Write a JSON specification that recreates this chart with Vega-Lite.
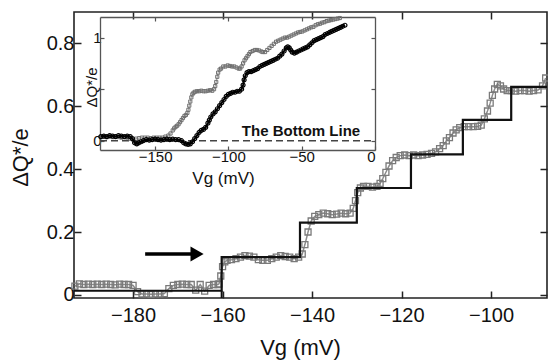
{
  "$schema": "https://vega.github.io/schema/vega-lite/v6.json",
  "width": 473,
  "height": 286,
  "autosize": {"type": "none"},
  "padding": {"left": 74, "top": 12, "right": 1, "bottom": 63},
  "background": "white",
  "config": {
    "font": "Liberation Sans",
    "view": {"stroke": "#222", "strokeWidth": 1.6},
    "axis": {"grid": false, "labelColor": "#111", "titleColor": "#111", "titleFontWeight": "normal", "labelFont": "Liberation Sans", "titleFont": "Liberation Sans"}
  },
  "datasets": {
    "main_gray": [
      {"x": -193, "y": 0.028}, {"x": -192, "y": 0.035}, {"x": -191, "y": 0.033}, {"x": -190, "y": 0.034},
      {"x": -189, "y": 0.033}, {"x": -188, "y": 0.034}, {"x": -187, "y": 0.033}, {"x": -186, "y": 0.034},
      {"x": -185, "y": 0.033}, {"x": -184, "y": 0.032}, {"x": -183, "y": 0.034}, {"x": -182, "y": 0.033},
      {"x": -181, "y": 0.033}, {"x": -180, "y": 0.03}, {"x": -179, "y": 0.01}, {"x": -178, "y": 0.003},
      {"x": -177, "y": 0.003}, {"x": -176, "y": 0.002}, {"x": -175, "y": 0.003}, {"x": -174, "y": 0.003},
      {"x": -173, "y": 0.004}, {"x": -172, "y": 0.02}, {"x": -171, "y": 0.03}, {"x": -170, "y": 0.033},
      {"x": -169, "y": 0.034}, {"x": -168, "y": 0.033}, {"x": -167, "y": 0.033}, {"x": -166, "y": 0.015},
      {"x": -165, "y": 0.033}, {"x": -164, "y": 0.012}, {"x": -163, "y": 0.03}, {"x": -162, "y": 0.033},
      {"x": -161, "y": 0.033}, {"x": -160.8, "y": 0.035}, {"x": -160.4, "y": 0.06}, {"x": -160, "y": 0.09},
      {"x": -159.5, "y": 0.105}, {"x": -159, "y": 0.11}, {"x": -158, "y": 0.112}, {"x": -157, "y": 0.115},
      {"x": -156, "y": 0.12}, {"x": -155, "y": 0.125}, {"x": -154, "y": 0.123}, {"x": -153, "y": 0.12},
      {"x": -152, "y": 0.112}, {"x": -151, "y": 0.11}, {"x": -150, "y": 0.11}, {"x": -149, "y": 0.115},
      {"x": -148, "y": 0.12}, {"x": -147, "y": 0.125}, {"x": -146, "y": 0.122}, {"x": -145, "y": 0.12},
      {"x": -144, "y": 0.115}, {"x": -143, "y": 0.12}, {"x": -142.2, "y": 0.13}, {"x": -141.6, "y": 0.16},
      {"x": -140.9, "y": 0.2}, {"x": -140.2, "y": 0.235}, {"x": -139.4, "y": 0.25}, {"x": -138.5, "y": 0.255},
      {"x": -137.5, "y": 0.26}, {"x": -136.5, "y": 0.258}, {"x": -135.5, "y": 0.255}, {"x": -134.5, "y": 0.257},
      {"x": -133.5, "y": 0.26}, {"x": -132.5, "y": 0.258}, {"x": -131.5, "y": 0.26}, {"x": -130.8, "y": 0.275},
      {"x": -130.3, "y": 0.3}, {"x": -129.8, "y": 0.325}, {"x": -129.2, "y": 0.34}, {"x": -128.5, "y": 0.345},
      {"x": -127.5, "y": 0.345}, {"x": -126.5, "y": 0.343}, {"x": -125.5, "y": 0.345}, {"x": -124.8, "y": 0.355},
      {"x": -124.2, "y": 0.37}, {"x": -123.5, "y": 0.39}, {"x": -122.8, "y": 0.41}, {"x": -122, "y": 0.427},
      {"x": -121.2, "y": 0.437}, {"x": -120.3, "y": 0.443}, {"x": -119.3, "y": 0.445}, {"x": -118.3, "y": 0.443},
      {"x": -117.3, "y": 0.445}, {"x": -116.3, "y": 0.443}, {"x": -115.3, "y": 0.445}, {"x": -114.3, "y": 0.447},
      {"x": -113.3, "y": 0.45}, {"x": -112.4, "y": 0.455}, {"x": -111.5, "y": 0.465}, {"x": -110.7, "y": 0.475},
      {"x": -110, "y": 0.49}, {"x": -109.3, "y": 0.5}, {"x": -108.5, "y": 0.515}, {"x": -107.8, "y": 0.525},
      {"x": -107, "y": 0.532}, {"x": -106, "y": 0.535}, {"x": -105, "y": 0.535}, {"x": -104, "y": 0.535},
      {"x": -103, "y": 0.536}, {"x": -102.2, "y": 0.54}, {"x": -101.5, "y": 0.56}, {"x": -100.8, "y": 0.585},
      {"x": -100.2, "y": 0.61}, {"x": -99.7, "y": 0.635}, {"x": -99.2, "y": 0.655}, {"x": -98.6, "y": 0.67},
      {"x": -97.9, "y": 0.665}, {"x": -97.2, "y": 0.655}, {"x": -96.4, "y": 0.65}, {"x": -95.5, "y": 0.65},
      {"x": -94.5, "y": 0.648}, {"x": -93.5, "y": 0.65}, {"x": -92.5, "y": 0.65}, {"x": -91.5, "y": 0.648},
      {"x": -90.5, "y": 0.65}, {"x": -89.5, "y": 0.652}, {"x": -88.5, "y": 0.665}, {"x": -87.8, "y": 0.69}
    ],
    "steps": [
      {"x": -193.2, "y": 0.013}, {"x": -160.2, "y": 0.12}, {"x": -142.7, "y": 0.23}, {"x": -130, "y": 0.34},
      {"x": -117.9, "y": 0.447}, {"x": -106.3, "y": 0.557}, {"x": -95.5, "y": 0.662}, {"x": -87.5, "y": 0.662}
    ],
    "inset_gray": [
      {"x": -187, "y": 0.035}, {"x": -185, "y": 0.04}, {"x": -183, "y": 0.035}, {"x": -181, "y": 0.04},
      {"x": -179, "y": 0.035}, {"x": -177, "y": 0.04}, {"x": -175, "y": 0.035}, {"x": -173, "y": 0.03},
      {"x": -171, "y": 0.035}, {"x": -169, "y": 0.03}, {"x": -167, "y": 0.02}, {"x": -165, "y": 0.01},
      {"x": -163, "y": 0.02}, {"x": -161, "y": 0.025}, {"x": -159, "y": 0.03}, {"x": -157, "y": 0.03},
      {"x": -155, "y": 0.03}, {"x": -153, "y": 0.025}, {"x": -151, "y": 0.03}, {"x": -149, "y": 0.03},
      {"x": -147, "y": 0.03}, {"x": -145, "y": 0.03}, {"x": -143, "y": 0.04}, {"x": -141, "y": 0.05},
      {"x": -139.5, "y": 0.07}, {"x": -138, "y": 0.1}, {"x": -137, "y": 0.12}, {"x": -136, "y": 0.135},
      {"x": -135, "y": 0.145}, {"x": -134, "y": 0.16}, {"x": -133, "y": 0.18}, {"x": -132, "y": 0.2},
      {"x": -131, "y": 0.22}, {"x": -130, "y": 0.24}, {"x": -129, "y": 0.25}, {"x": -128, "y": 0.27},
      {"x": -127.3, "y": 0.3}, {"x": -126.7, "y": 0.34}, {"x": -126, "y": 0.38}, {"x": -125.3, "y": 0.42},
      {"x": -124.6, "y": 0.45}, {"x": -123.8, "y": 0.465}, {"x": -122.8, "y": 0.475}, {"x": -121.5, "y": 0.48},
      {"x": -120, "y": 0.48}, {"x": -118.5, "y": 0.485}, {"x": -117, "y": 0.48}, {"x": -115.5, "y": 0.48},
      {"x": -114, "y": 0.485}, {"x": -112.5, "y": 0.49}, {"x": -111, "y": 0.485}, {"x": -109.8, "y": 0.5},
      {"x": -109, "y": 0.53}, {"x": -108.3, "y": 0.57}, {"x": -107.6, "y": 0.62}, {"x": -107, "y": 0.66},
      {"x": -106, "y": 0.69}, {"x": -105, "y": 0.7}, {"x": -103.5, "y": 0.72}, {"x": -102, "y": 0.72},
      {"x": -100.5, "y": 0.73}, {"x": -99, "y": 0.725}, {"x": -97.5, "y": 0.72}, {"x": -96, "y": 0.72},
      {"x": -94.5, "y": 0.71}, {"x": -93, "y": 0.7}, {"x": -92, "y": 0.7}, {"x": -91, "y": 0.72},
      {"x": -90, "y": 0.75}, {"x": -89, "y": 0.78}, {"x": -88, "y": 0.8}, {"x": -87, "y": 0.82},
      {"x": -86, "y": 0.84}, {"x": -85, "y": 0.86}, {"x": -83.5, "y": 0.87}, {"x": -82, "y": 0.88},
      {"x": -80.5, "y": 0.88}, {"x": -79, "y": 0.875}, {"x": -77.5, "y": 0.865}, {"x": -76.5, "y": 0.86},
      {"x": -75, "y": 0.86}, {"x": -73.5, "y": 0.88}, {"x": -72, "y": 0.9}, {"x": -70.5, "y": 0.92},
      {"x": -69, "y": 0.94}, {"x": -67.5, "y": 0.96}, {"x": -66, "y": 0.97}, {"x": -64.5, "y": 0.98},
      {"x": -63, "y": 0.99}, {"x": -61.5, "y": 1.0}, {"x": -60, "y": 1.0}, {"x": -58.5, "y": 1.01},
      {"x": -57, "y": 1.02}, {"x": -55.5, "y": 1.03}, {"x": -54, "y": 1.04}, {"x": -52.5, "y": 1.05},
      {"x": -51, "y": 1.055}, {"x": -49.5, "y": 1.06}, {"x": -48, "y": 1.07}, {"x": -46.5, "y": 1.08},
      {"x": -45, "y": 1.09}, {"x": -43.5, "y": 1.1}, {"x": -42, "y": 1.105}, {"x": -40.5, "y": 1.12},
      {"x": -39, "y": 1.13}, {"x": -37.5, "y": 1.135}, {"x": -36, "y": 1.145}, {"x": -34.5, "y": 1.15},
      {"x": -33, "y": 1.16}, {"x": -31.5, "y": 1.165}, {"x": -30, "y": 1.17}, {"x": -28.5, "y": 1.175},
      {"x": -27, "y": 1.18}, {"x": -25.5, "y": 1.185}, {"x": -24, "y": 1.19}
    ],
    "inset_black": [
      {"x": -187, "y": 0.04}, {"x": -185, "y": 0.045}, {"x": -183, "y": 0.04}, {"x": -181, "y": 0.05},
      {"x": -179, "y": 0.045}, {"x": -177, "y": 0.04}, {"x": -175, "y": 0.05}, {"x": -173, "y": 0.045},
      {"x": -171, "y": 0.04}, {"x": -169, "y": 0.045}, {"x": -167, "y": 0.04}, {"x": -165.5, "y": 0.02},
      {"x": -164, "y": -0.02}, {"x": -162.5, "y": -0.03}, {"x": -161, "y": -0.02}, {"x": -159.5, "y": -0.01},
      {"x": -158, "y": 0.0}, {"x": -156, "y": 0.01}, {"x": -154, "y": 0.005}, {"x": -152, "y": 0.01},
      {"x": -150, "y": 0.015}, {"x": -148, "y": 0.01}, {"x": -146, "y": 0.005}, {"x": -144, "y": 0.01},
      {"x": -142, "y": 0.015}, {"x": -140, "y": 0.01}, {"x": -138, "y": 0.015}, {"x": -136, "y": 0.01},
      {"x": -134, "y": 0.01}, {"x": -132, "y": 0.0}, {"x": -130.5, "y": -0.02}, {"x": -129, "y": -0.03},
      {"x": -127.5, "y": -0.035}, {"x": -126, "y": -0.03}, {"x": -124.5, "y": -0.01}, {"x": -123, "y": 0.02},
      {"x": -121.5, "y": 0.05}, {"x": -120, "y": 0.08}, {"x": -118.5, "y": 0.1}, {"x": -117, "y": 0.11},
      {"x": -115.5, "y": 0.13}, {"x": -114, "y": 0.17}, {"x": -113, "y": 0.2}, {"x": -112, "y": 0.23},
      {"x": -110.5, "y": 0.26}, {"x": -109, "y": 0.28}, {"x": -107.5, "y": 0.31}, {"x": -106, "y": 0.34},
      {"x": -104.5, "y": 0.37}, {"x": -103, "y": 0.4}, {"x": -101.5, "y": 0.43}, {"x": -100, "y": 0.45},
      {"x": -98.5, "y": 0.46}, {"x": -97, "y": 0.47}, {"x": -95.5, "y": 0.47}, {"x": -94, "y": 0.48},
      {"x": -92.5, "y": 0.48}, {"x": -91, "y": 0.5}, {"x": -90, "y": 0.54}, {"x": -89.3, "y": 0.59},
      {"x": -88.5, "y": 0.63}, {"x": -87.3, "y": 0.66}, {"x": -86, "y": 0.67}, {"x": -84.5, "y": 0.67},
      {"x": -83, "y": 0.68}, {"x": -81.5, "y": 0.69}, {"x": -80, "y": 0.7}, {"x": -78.5, "y": 0.72},
      {"x": -77, "y": 0.73}, {"x": -75.5, "y": 0.74}, {"x": -74, "y": 0.75}, {"x": -72.5, "y": 0.76},
      {"x": -71, "y": 0.77}, {"x": -69.5, "y": 0.78}, {"x": -68, "y": 0.79}, {"x": -66.5, "y": 0.8},
      {"x": -65, "y": 0.82}, {"x": -63.5, "y": 0.84}, {"x": -62, "y": 0.87}, {"x": -60.5, "y": 0.9},
      {"x": -59.5, "y": 0.91}, {"x": -58.5, "y": 0.9}, {"x": -57.5, "y": 0.88}, {"x": -56.5, "y": 0.86},
      {"x": -55, "y": 0.85}, {"x": -53.5, "y": 0.86}, {"x": -52, "y": 0.87}, {"x": -50.5, "y": 0.88},
      {"x": -49, "y": 0.89}, {"x": -47.5, "y": 0.9}, {"x": -46, "y": 0.91}, {"x": -44.5, "y": 0.93},
      {"x": -43, "y": 0.95}, {"x": -41.5, "y": 0.97}, {"x": -40, "y": 0.98}, {"x": -38.5, "y": 0.99},
      {"x": -37, "y": 1.0}, {"x": -35.5, "y": 1.01}, {"x": -34, "y": 1.03}, {"x": -32.5, "y": 1.04},
      {"x": -31, "y": 1.05}, {"x": -29.5, "y": 1.06}, {"x": -28, "y": 1.07}, {"x": -26.5, "y": 1.08},
      {"x": -25, "y": 1.09}, {"x": -23.5, "y": 1.1}, {"x": -22, "y": 1.11}, {"x": -20.5, "y": 1.12}
    ]
  },
  "layer": [
    {
      "encoding": {
        "x": {
          "field": "x", "type": "quantitative",
          "scale": {"domain": [-193.2, -87.5], "zero": false, "nice": false},
          "axis": {
            "orient": "bottom", "values": [-180, -160, -140, -120, -100], "domain": false,
            "tickSize": -7, "tickWidth": 1.5, "tickColor": "#222",
            "labelFontSize": 20, "labelPadding": 14,
            "title": "Vg (mV)", "titleFontSize": 22, "titleX": 226, "titleY": 49,
            "titleBaseline": "middle", "titleAlign": "center"
          }
        },
        "y": {
          "field": "y", "type": "quantitative",
          "scale": {"domain": [-0.01, 0.9], "zero": false, "nice": false},
          "axis": {
            "orient": "left", "values": [0, 0.2, 0.4, 0.6, 0.8], "format": ".1~f", "domain": false,
            "tickSize": -7, "tickWidth": 1.5, "tickColor": "#222",
            "labelFontSize": 20, "labelPadding": 7,
            "title": "ΔQ*/e", "titleFontSize": 22, "titleX": -54, "titleY": 145,
            "titleBaseline": "middle", "titleAlign": "center", "titleAngle": -90
          }
        }
      },
      "layer": [
        {"data": {"name": "main_gray"}, "mark": {"type": "line", "color": "#8c8c8c", "strokeWidth": 1.5}},
        {"data": {"name": "main_gray"}, "mark": {"type": "point", "shape": "square", "filled": false, "color": "#7a7a7a", "size": 36, "strokeWidth": 1.3, "opacity": 1}},
        {"data": {"name": "steps"}, "mark": {"type": "line", "interpolate": "step-after", "color": "#111", "strokeWidth": 2.2}},
        {"data": {"values": [{"x": -160.2, "y": -0.01, "y2": 0.013}]}, "mark": {"type": "rule", "color": "#111", "strokeWidth": 2}, "encoding": {"y2": {"field": "y2"}}},
        {"data": {"values": [{"x": -177.3, "x2": -167, "y": 0.13}]}, "mark": {"type": "rule", "color": "#000", "strokeWidth": 3.5}, "encoding": {"x2": {"field": "x2"}}},
        {"data": {"values": [{"x": -165.7, "y": 0.13}]}, "mark": {"type": "point", "shape": "triangle-right", "filled": true, "size": 230, "color": "#000", "opacity": 1}}
      ]
    },
    {
      "data": {"values": [{"x": -140, "y": 0.4}]},
      "mark": {"type": "point", "opacity": 0},
      "encoding": {
        "x": {
          "field": "x", "type": "quantitative",
          "scale": {"domain": [-193.2, -87.5], "zero": false, "nice": false},
          "axis": {"orient": "top", "values": [-180, -160, -140, -120, -100], "domain": false, "labels": false, "tickSize": -7, "tickWidth": 1.5, "tickColor": "#222", "title": null}
        },
        "y": {
          "field": "y", "type": "quantitative",
          "scale": {"domain": [-0.01, 0.9], "zero": false, "nice": false},
          "axis": {"orient": "right", "values": [0, 0.2, 0.4, 0.6, 0.8], "domain": false, "labels": false, "tickSize": -7, "tickWidth": 1.5, "tickColor": "#222", "title": null}
        }
      }
    },
    {
      "encoding": {
        "x": {
          "field": "x", "type": "quantitative",
          "scale": {"domain": [-187.6, 0], "range": [26, 301], "zero": false, "nice": false},
          "axis": {
            "orient": "bottom", "offset": -148, "values": [-150, -100, -50, 0],
            "domainColor": "#555", "domainWidth": 1.3, "tickSize": -4, "tickColor": "#555", "tickWidth": 1.2,
            "labelFontSize": 15, "labelPadding": 3,
            "title": "Vg (mV)", "titleFontSize": 17, "titleX": 149, "titleY": 28,
            "titleBaseline": "middle", "titleAlign": "center"
          }
        },
        "y": {
          "field": "y", "type": "quantitative",
          "scale": {"domain": [-0.09, 1.2], "range": [138, 5], "zero": false, "nice": false},
          "axis": {
            "orient": "left", "offset": -26, "values": [0, 0.5, 1], "format": ".1~f",
            "labelExpr": "datum.value == 0.5 ? '' : datum.label",
            "domainColor": "#555", "domainWidth": 1.3, "tickSize": -4, "tickColor": "#555", "tickWidth": 1.2,
            "labelFontSize": 15, "labelPadding": 3,
            "title": "ΔQ*/e", "titleFontSize": 15, "titleX": -9, "titleY": 75,
            "titleBaseline": "middle", "titleAlign": "center", "titleAngle": -90
          }
        }
      },
      "layer": [
        {"data": {"values": [{"x": -187.6, "x2": 0, "y": 0}]}, "mark": {"type": "rule", "color": "#444", "strokeWidth": 1.5, "strokeDash": [7, 4]}, "encoding": {"x2": {"field": "x2"}}},
        {"data": {"name": "inset_gray"}, "mark": {"type": "line", "color": "#999", "strokeWidth": 1}},
        {"data": {"name": "inset_gray"}, "mark": {"type": "point", "shape": "square", "filled": false, "color": "#6f6f6f", "size": 10, "strokeWidth": 1, "opacity": 1}},
        {"data": {"name": "inset_black"}, "mark": {"type": "line", "color": "#000", "strokeWidth": 2}},
        {"data": {"name": "inset_black"}, "mark": {"type": "point", "shape": "circle", "filled": false, "color": "#000", "size": 16, "strokeWidth": 1.2, "opacity": 1}},
        {"data": {"values": [{"x": -50.5, "y": 0.095, "label": "The Bottom Line"}]}, "mark": {"type": "text", "fontSize": 15, "fontWeight": "bold", "color": "#111", "align": "center", "baseline": "middle"}, "encoding": {"text": {"field": "label"}}}
      ]
    },
    {
      "data": {"values": [{"x": -100, "y": 0.5}]},
      "mark": {"type": "point", "opacity": 0},
      "encoding": {
        "x": {
          "field": "x", "type": "quantitative",
          "scale": {"domain": [-187.6, 0], "range": [26, 301], "zero": false, "nice": false},
          "axis": {"orient": "top", "offset": -5, "values": [-150, -100, -50], "domainColor": "#555", "domainWidth": 1.3, "labels": false, "tickSize": -4, "tickColor": "#555", "tickWidth": 1.2, "title": null}
        },
        "y": {
          "field": "y", "type": "quantitative",
          "scale": {"domain": [-0.09, 1.2], "range": [138, 5], "zero": false, "nice": false},
          "axis": {"orient": "right", "offset": -172, "values": [0, 0.5, 1], "domainColor": "#555", "domainWidth": 1.3, "labels": false, "tickSize": -4, "tickColor": "#555", "tickWidth": 1.2, "title": null}
        }
      }
    }
  ],
  "resolve": {"scale": {"x": "independent", "y": "independent"}, "axis": {"x": "independent", "y": "independent"}}
}
